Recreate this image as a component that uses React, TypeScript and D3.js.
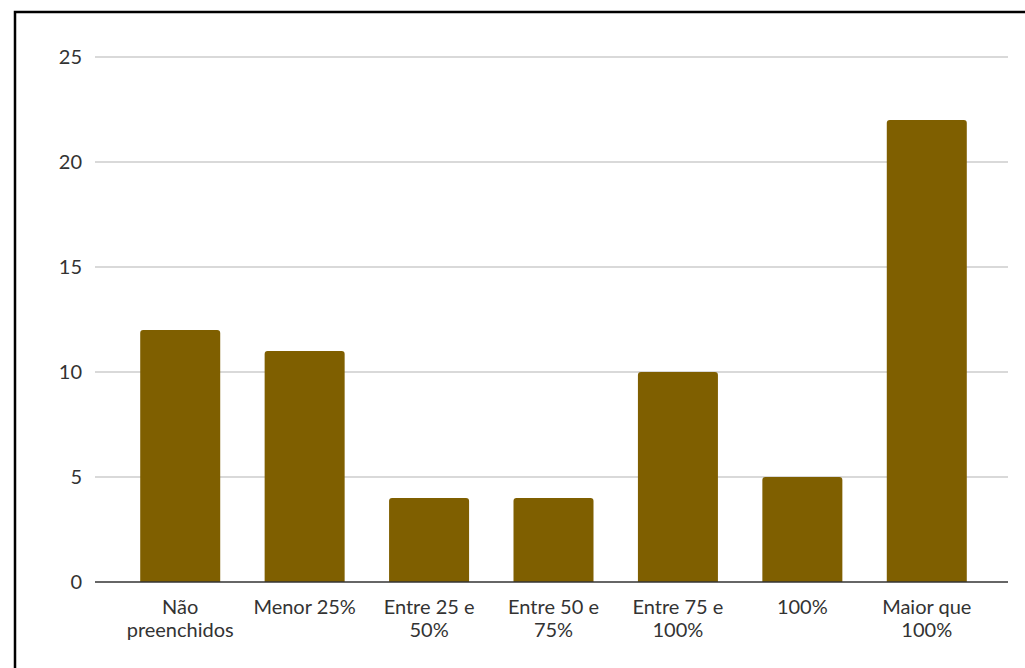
import React from "react";
import * as d3 from "d3";

const categories: string[][] = [
  ["Não", "preenchidos"],
  ["Menor 25%"],
  ["Entre 25 e", "50%"],
  ["Entre 50 e", "75%"],
  ["Entre 75 e", "100%"],
  ["100%"],
  ["Maior que", "100%"],
];
const values: number[] = [12, 11, 4, 4, 10, 5, 22];
const yTicks: number[] = [0, 5, 10, 15, 20, 25];

const W = 1025;
const H = 668;
const gridLeft = 95;
const gridRight = 1008;
const bandLeft = 118;
const bandRight = 989;
const yTop = 57;
const yBottom = 582;
const barColor = "#7f5f00";
const font = "Lato, 'Open Sans', sans-serif";
const fontSize = 20;

function topRoundedRect(x: number, y: number, w: number, h: number, r: number) {
  const rr = Math.min(r, h, w / 2);
  return `M${x},${y + h}V${y + rr}Q${x},${y} ${x + rr},${y}H${x + w - rr}Q${x + w},${y} ${x + w},${y + rr}V${y + h}Z`;
}

export default function App() {
  const x = d3
    .scaleBand<number>()
    .domain(categories.map((_, i) => i))
    .range([bandLeft, bandRight])
    .paddingInner(0.357)
    .paddingOuter(0.1785);
  const y = d3.scaleLinear().domain([0, 25]).range([yBottom, yTop]);

  return (
    <svg
      width={W}
      height={H}
      style={{ position: "absolute", left: 0, top: 0, display: "block" }}
    >
      <rect x={0} y={0} width={W} height={H} fill="#fff" />
      <rect x={15} y={12} width={W + 20} height={H + 20} fill="none" stroke="#000" strokeWidth={2.5} />
      {yTicks.map((t) => (
        <g key={t}>
          {t !== 0 && (
            <line x1={gridLeft} x2={gridRight} y1={y(t)} y2={y(t)} stroke="#cccccc" strokeWidth={1.3} />
          )}
          <text
            x={82}
            y={y(t)}
            dy="0.36em"
            textAnchor="end"
            fontFamily={font}
            fontSize={fontSize}
            fill="#333"
          >
            {t}
          </text>
        </g>
      ))}
      {values.map((v, i) => (
        <path
          key={i}
          d={topRoundedRect(x(i)!, y(v), x.bandwidth(), y(0) - y(v), 3)}
          fill={barColor}
        />
      ))}
      <line x1={gridLeft} x2={gridRight} y1={y(0)} y2={y(0)} stroke="#333" strokeWidth={1.3} />
      {categories.map((lines, i) => (
        <text
          key={i}
          y={614}
          textAnchor="middle"
          fontFamily={font}
          fontSize={fontSize}
          fill="#333"
        >
          {lines.map((l, j) => (
            <tspan key={j} x={x(i)! + x.bandwidth() / 2} dy={j === 0 ? 0 : 23}>
              {l}
            </tspan>
          ))}
        </text>
      ))}
    </svg>
  );
}
